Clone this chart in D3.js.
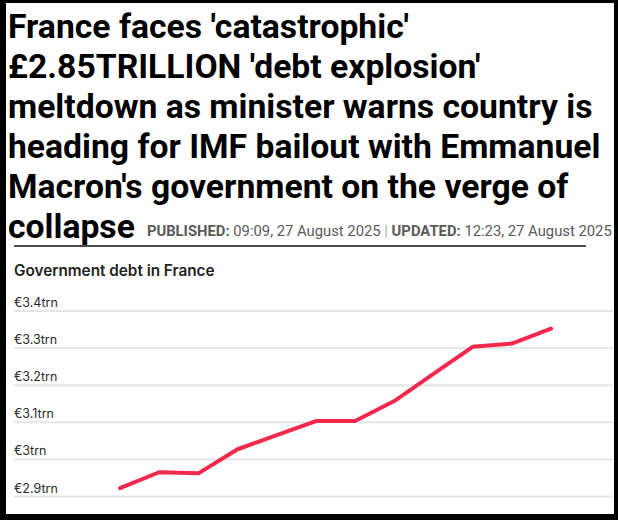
<!DOCTYPE html>
<html>
<head>
<meta charset="utf-8">
<script src="https://cdn.jsdelivr.net/npm/d3@7"></script>
<style>
  html, body { margin: 0; padding: 0; background: #000; }
  svg { display: block; }
  .headline { font-family: Roboto, 'Liberation Sans', sans-serif; font-weight: 700; font-size: 33.7px; fill: #000; }
  .meta { font-family: Roboto, sans-serif; font-size: 14.8px; fill: #5a5a5a; }
  .chart-title { font-family: Inter, 'Noto Sans', sans-serif; font-weight: 600; font-size: 15.3px; fill: #222; }
  .axis-label { font-family: Inter, 'Noto Sans', sans-serif; font-size: 12.5px; fill: #2a2a2a; }
</style>
</head>
<body>
<svg id="chart"></svg>
<script>
const headlineLines = [
    "France faces 'catastrophic'",
    "£2.85TRILLION 'debt explosion'",
    "meltdown as minister warns country is",
    "heading for IMF bailout with Emmanuel",
    "Macron's government on the verge of",
    "collapse"
]
const published = '09:09, 27 August 2025'
const updated = '12:23, 27 August 2025'
const chartTitle = 'Government debt in France'

// quarters, Q2 2022 .. Q1 2025 (no labels shown on the chart)
const quarters = ['Q2 2022', 'Q3 2022', 'Q4 2022', 'Q1 2023', 'Q2 2023', 'Q3 2023',
    'Q4 2023', 'Q1 2024', 'Q2 2024', 'Q3 2024', 'Q4 2024', 'Q1 2025']
// euro trillions
const debt = [2.921, 2.964, 2.961, 3.026, 3.064, 3.102, 3.102, 3.156, 3.229, 3.302, 3.311, 3.351]

const tickValues = [2.9, 3.0, 3.1, 3.2, 3.3, 3.4]
const tickLabels = ['€2.9trn', '€3trn', '€3.1trn', '€3.2trn', '€3.3trn', '€3.4trn']

const W = 618, H = 520

const svg = d3.select('#chart').attr('width', W).attr('height', H)

svg.append('rect').attr('width', W).attr('height', H).attr('fill', '#000')
svg.append('rect')
    .attr('x', 6).attr('y', 3)
    .attr('width', 608).attr('height', 511)
    .attr('fill', '#fff')

// headline
const head = svg.append('g')
head.selectAll('text')
        .data(headlineLines)
    .enter().append('text')
        .attr('class', 'headline')
        .attr('x', 8)
        .attr('y', (d, i) => 38 + i * 40)
        .text(d => d)

// published / updated after last headline line
const lastLine = head.selectAll('text').nodes()[headlineLines.length - 1]
const metaX = 8 + lastLine.getComputedTextLength() + 12
const meta = svg.append('text')
    .attr('class', 'meta')
    .attr('x', metaX)
    .attr('y', 236)
meta.append('tspan').attr('font-weight', 700).text('PUBLISHED: ')
meta.append('tspan').text(published + ' ')
meta.append('tspan').attr('fill', '#aaa').text('| ')
meta.append('tspan').attr('font-weight', 700).text('UPDATED: ')
meta.append('tspan').text(updated)

svg.append('line')
    .attr('x1', 14).attr('x2', 586)
    .attr('y1', 246).attr('y2', 246)
    .attr('stroke', '#111')
    .attr('stroke-width', 1.5)

svg.append('text')
    .attr('class', 'chart-title')
    .attr('x', 14)
    .attr('y', 276)
    .text(chartTitle)

// scales
const x = d3.scalePoint().domain(quarters).range([120, 551])
const y = d3.scaleLinear().domain([2.9, 3.4]).range([496, 310.5])

const gridLeft = 14, gridRight = 613

const axis = d3.axisRight(y)
    .tickValues(tickValues)
    .tickSize(gridRight - gridLeft)
    .tickFormat((d, i) => tickLabels[i])

const yAxis = svg.append('g')
    .attr('transform', `translate(${gridLeft},0)`)
    .call(axis)

yAxis.select('.domain').remove()
yAxis.selectAll('.tick line')
    .attr('stroke', '#e6e6e6')
    .attr('stroke-width', 2)
yAxis.selectAll('.tick text')
    .attr('class', 'axis-label')
    .attr('x', 0)
    .attr('dy', -4)
    .attr('text-anchor', 'start')
    .attr('font-family', null)
    .attr('font-size', null)

const line = d3.line()
    .x((d, i) => x(quarters[i]))
    .y(d => y(d))

svg.append('path')
    .datum(debt)
    .attr('d', line)
    .attr('fill', 'none')
    .attr('stroke', '#f2284d')
    .attr('stroke-width', 4)
    .attr('stroke-linejoin', 'round')
    .attr('stroke-linecap', 'round')
</script>
</body>
</html>
